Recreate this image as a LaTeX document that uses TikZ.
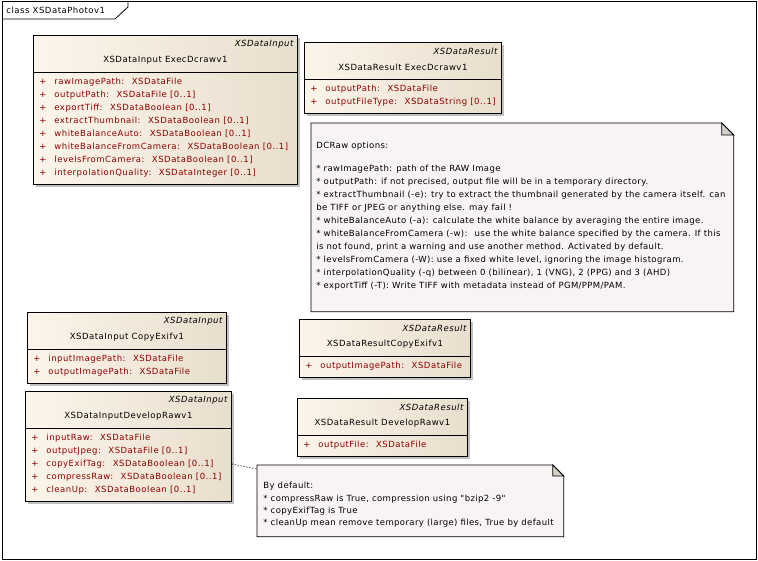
\documentclass[tikz,border=0pt]{standalone}
\usepackage{fontspec}
\setmainfont{DejaVu Sans}
\newfontfamily\classfont[LetterSpace=6]{DejaVu Sans}
\newfontfamily\notefont[LetterSpace=4.5]{DejaVu Sans}
\usetikzlibrary{positioning,calc,shadows}

\definecolor{boxleft}{RGB}{252,245,234}
\definecolor{boxright}{RGB}{232,222,205}
\definecolor{attrred}{RGB}{140,0,0}
\definecolor{notefill}{RGB}{247,243,247}
\definecolor{foldgray}{RGB}{212,208,200}
\definecolor{shadowgray}{RGB}{192,192,192}

\begin{document}
\begin{tikzpicture}[x=1pt, y=-1pt, line width=0.8pt,
    classbox/.style={draw, anchor=north west, inner sep=0pt, left color=boxleft, right color=boxright,
        drop shadow={shadow xshift=3pt, shadow yshift=-3pt, fill=shadowgray, opacity=1}},
    stereo/.style={anchor=east, inner sep=0pt, font=\classfont\fontsize{8.5}{10}\selectfont\itshape},
    cname/.style={inner sep=0pt, font=\classfont\fontsize{8.5}{10}\selectfont},
    attr/.style={anchor=west, inner sep=0pt, text=attrred, font=\classfont\fontsize{8.5}{10}\selectfont},
    notebox/.style={anchor=north west, inner sep=0pt},
    notetext/.style={anchor=west, inner sep=0pt, font=\notefont\fontsize{8.5}{10}\selectfont},
    link/.style={line width=0.8pt, dash pattern=on 1pt off 2pt}]

    \useasboundingbox (0,0) rectangle (758,561);

    % frame
    \node[notebox, minimum width=754pt, minimum height=558pt] (frame) at (2,1) {};
    \draw (frame.north west) rectangle (frame.south east);
    \draw (2,19) -- (115,19) -- (128,7) -- (128,1);
    \node[cname, anchor=west] (title) at (6,10) {class XSDataPhotov1};

    % XSDataInputExecDcrawv1
    \node[classbox, minimum width=264pt, minimum height=149pt] (A) at (33,35) {};
    \node[stereo] (Ast) at ($(A.north east)+(-4,9)$) {XSDataInput};
    \node[cname] (Aname) at ($(A.north)+(0,25.5)$) {XSDataInput ExecDcrawv1};
    \draw ($(A.north west)+(0,37)$) -- ($(A.north east)+(0,37)$);
    \foreach \t [count=\i from 0] in {rawImagePath:~ XSDataFile,
        outputPath:~ XSDataFile [0..1],
        exportTiff:~ XSDataBoolean [0..1],
        extractThumbnail:~ XSDataBoolean [0..1],
        whiteBalanceAuto:~ XSDataBoolean [0..1],
        whiteBalanceFromCamera:~ XSDataBoolean [0..1],
        levelsFromCamera:~ XSDataBoolean [0..1],
        interpolationQuality:~ XSDataInteger [0..1]}
    {
        \node[attr] at ($(A.north west)+(6,47+13*\i)$) {+};
        \node[attr] at ($(A.north west)+(21,47+13*\i)$) {\t};
    }

    % XSDataResultExecDcrawv1
    \node[classbox, minimum width=197pt, minimum height=71pt] (B) at (304,42) {};
    \node[stereo] (Bst) at ($(B.north east)+(-4,9)$) {XSDataResult};
    \node[cname] (Bname) at ($(B.north)+(0,25.5)$) {XSDataResult ExecDcrawv1};
    \draw ($(B.north west)+(0,37)$) -- ($(B.north east)+(0,37)$);
    \foreach \t [count=\i from 0] in {outputPath:~ XSDataFile,
        outputFileType:~ XSDataString [0..1]}
    {
        \node[attr] at ($(B.north west)+(6,47+13*\i)$) {+};
        \node[attr] at ($(B.north west)+(21,47+13*\i)$) {\t};
    }

    % DCRaw note
    \node[notebox, minimum width=422pt, minimum height=188pt] (N1) at (311,123) {};
    \draw[fill=notefill] (N1.north west) -- ($(N1.north east)+(-12,0)$) -- ($(N1.north east)+(0,12)$)
        -- (N1.south east) -- (N1.south west) -- cycle;
    \draw[fill=foldgray] ($(N1.north east)+(-12,0)$) -- ($(N1.north east)+(-12,12)$) -- ($(N1.north east)+(0,12)$) -- cycle;
    \node[notetext] at ($(N1.north west)+(5,23)$) {DCRaw options:};
    \foreach \t [count=\i from 0] in {{* rawImagePath: path of the RAW Image},
        {* outputPath: if not precised, output file will be in a temporary directory.},
        {* extractThumbnail (-e): try to extract the thumbnail generated by the camera itself. can},
        {be TIFF or JPEG or anything else. may fail !},
        {* whiteBalanceAuto (-a): calculate the white balance by averaging the entire image.},
        {* whiteBalanceFromCamera (-w):~ use the white balance specified by the camera. If this},
        {is not found, print a warning and use another method. Activated by default.},
        {* levelsFromCamera (-W): use a fixed white level, ignoring the image histogram.},
        {* interpolationQuality (-q) between 0 (bilinear), 1 (VNG), 2 (PPG) and 3 (AHD)},
        {* exportTiff (-T): Write TIFF with metadata instead of PGM/PPM/PAM.}}
    {
        \node[notetext] at ($(N1.north west)+(5,46+13*\i)$) {\t};
    }

    % XSDataInputCopyExifv1
    \node[classbox, minimum width=199pt, minimum height=71pt] (C) at (27,312) {};
    \node[stereo] (Cst) at ($(C.north east)+(-4,9)$) {XSDataInput};
    \node[cname] (Cname) at ($(C.north)+(0,25.5)$) {XSDataInput CopyExifv1};
    \draw ($(C.north west)+(0,37)$) -- ($(C.north east)+(0,37)$);
    \foreach \t [count=\i from 0] in {inputImagePath:~ XSDataFile,
        outputImagePath:~ XSDataFile}
    {
        \node[attr] at ($(C.north west)+(6,47+13*\i)$) {+};
        \node[attr] at ($(C.north west)+(21,47+13*\i)$) {\t};
    }

    % XSDataResultCopyExifv1
    \node[classbox, minimum width=171pt, minimum height=58pt] (D) at (299,319) {};
    \node[stereo] (Dst) at ($(D.north east)+(-4,9)$) {XSDataResult};
    \node[cname] (Dname) at ($(D.north)+(0,25.5)$) {XSDataResultCopyExifv1};
    \draw ($(D.north west)+(0,37)$) -- ($(D.north east)+(0,37)$);
    \node[attr] at ($(D.north west)+(6,47)$) {+};
    \node[attr] at ($(D.north west)+(21,47)$) {outputImagePath:~ XSDataFile};

    % XSDataInputDevelopRawv1
    \node[classbox, minimum width=206pt, minimum height=110pt] (E) at (25,391) {};
    \node[stereo] (Est) at ($(E.north east)+(-4,9)$) {XSDataInput};
    \node[cname] (Ename) at ($(E.north)+(0,25.5)$) {XSDataInputDevelopRawv1};
    \draw ($(E.north west)+(0,37)$) -- ($(E.north east)+(0,37)$);
    \foreach \t [count=\i from 0] in {inputRaw:~ XSDataFile,
        outputJpeg:~ XSDataFile [0..1],
        copyExifTag:~ XSDataBoolean [0..1],
        compressRaw:~ XSDataBoolean [0..1],
        cleanUp:~ XSDataBoolean [0..1]}
    {
        \node[attr] at ($(E.north west)+(6,47+13*\i)$) {+};
        \node[attr] at ($(E.north west)+(21,47+13*\i)$) {\t};
    }

    % XSDataResultDevelopRawv1
    \node[classbox, minimum width=170pt, minimum height=58pt] (F) at (297,398) {};
    \node[stereo] (Fst) at ($(F.north east)+(-4,9)$) {XSDataResult};
    \node[cname] (Fname) at ($(F.north)+(0,25.5)$) {XSDataResult DevelopRawv1};
    \draw ($(F.north west)+(0,37)$) -- ($(F.north east)+(0,37)$);
    \node[attr] at ($(F.north west)+(6,47)$) {+};
    \node[attr] at ($(F.north west)+(21,47)$) {outputFile:~ XSDataFile};

    % default values note
    \node[notebox, minimum width=306pt, minimum height=71pt] (N2) at (257,465) {};
    \draw[fill=notefill] (N2.north west) -- ($(N2.north east)+(-11,0)$) -- ($(N2.north east)+(0,11)$)
        -- (N2.south east) -- (N2.south west) -- cycle;
    \draw[fill=foldgray] ($(N2.north east)+(-11,0)$) -- ($(N2.north east)+(-11,11)$) -- ($(N2.north east)+(0,11)$) -- cycle;
    \foreach \t [count=\i from 0] in {{By default:},
        {* compressRaw is True, compression using "bzip2 -9"},
        {* copyExifTag is True},
        {* cleanUp mean remove temporary (large) files, True by default}}
    {
        \node[notetext] at ($(N2.north west)+(6,21.5+12.3*\i)$) {\t};
    }

    % note link
    \coordinate (Eport) at ($(E.north east)+(0,73)$);
    \coordinate (N2port) at ($(N2.north west)+(0,4)$);
    \draw[link] (Eport) -- (N2port);
\end{tikzpicture}
\end{document}
